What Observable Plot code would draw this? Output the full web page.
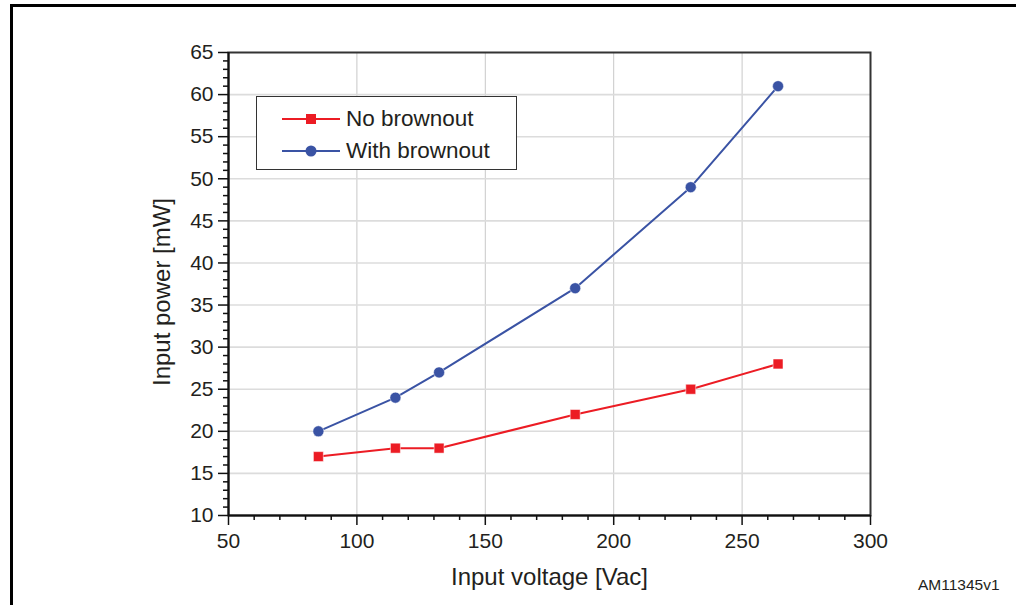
<!DOCTYPE html>
<html>
<head>
<meta charset="utf-8">
<script src="https://cdn.jsdelivr.net/npm/d3@7"></script>
<script src="https://cdn.jsdelivr.net/npm/@observablehq/plot@0.6"></script>
<style>
  html, body { margin: 0; padding: 0; background: #fff; }
  body { width: 1016px; height: 605px; overflow: hidden; position: relative; font-family: "Liberation Sans", Arial, sans-serif; }
  #frame { position: absolute; left: 10px; top: 4px; width: 1100px; height: 700px; border-left: 3px solid #000; border-top: 3px solid #000; box-sizing: border-box; }
  #chart { position: absolute; left: 0; top: 0; }
  #legend { position: absolute; left: 256px; top: 96px; width: 261px; height: 74px; border: 1.5px solid #333; background: #fff; box-sizing: border-box; }
  .row { position: absolute; left: 25px; height: 26px; display: flex; align-items: center; font-size: 22.5px; color: #231f20; }
  .row svg { margin-right: 6px; }
  #code { position: absolute; left: 918px; top: 576px; font-size: 15.5px; color: #231f20; }
</style>
</head>
<body>
<div id="frame"></div>
<div id="chart"></div>
<div id="legend"></div>
<div id="code">AM11345v1</div>
<script>
const voltage = [85, 115, 132, 185, 230, 264];
const noBrownout = [17, 18, 18, 22, 25, 28];
const withBrownout = [20, 24, 27, 37, 49, 61];
const seriesNames = ["No brownout", "With brownout"];
const seriesColors = ["#ec1c24", "#3a53a4"];
const xTicks = [50, 100, 150, 200, 250, 300];
const xMinor = [60, 70, 80, 90, 110, 120, 130, 140, 160, 170, 180, 190, 210, 220, 230, 240, 260, 270, 280, 290];
const yTicks = [10, 15, 20, 25, 30, 35, 40, 45, 50, 55, 60, 65];
const yMinor = d3.range(10, 66).filter(v => v % 5 !== 0);
const xLabel = "Input voltage [Vac]";
const yLabel = "Input power [mW]";

const red = voltage.map((v, i) => ({x: v, y: noBrownout[i]}));
const blue = voltage.map((v, i) => ({x: v, y: withBrownout[i]}));

const font = "Liberation Sans, Arial, sans-serif";
const chart = Plot.plot({
  width: 1016,
  height: 605,
  marginLeft: 228,
  marginRight: 146,
  marginTop: 52,
  marginBottom: 90,
  style: {fontFamily: font, color: "#231f20", background: "transparent"},
  x: {domain: [50, 300]},
  y: {domain: [10, 65]},
  marks: [
    Plot.ruleX(xTicks.slice(1, -1), {stroke: "#c8c8c8", strokeWidth: 1}),
    Plot.ruleY(yTicks.slice(1, -1), {stroke: "#dcdcdc", strokeWidth: 1.6}),
    Plot.frame({stroke: "#333", strokeWidth: 2}),
    Plot.ruleX([50], {stroke: "#111", strokeWidth: 2}),
    Plot.ruleY([10], {stroke: "#111", strokeWidth: 2}),
    Plot.axisY({ticks: yMinor, tickSize: 5, tickFormat: () => "", label: null, stroke: "#111", strokeWidth: 1.5}),
    Plot.axisX({ticks: xMinor, tickSize: 5, tickFormat: () => "", label: null, stroke: "#111", strokeWidth: 1.5}),
    Plot.axisY({ticks: yTicks, tickSize: 10, tickPadding: 5, fontSize: 21, label: null, stroke: "#111", strokeWidth: 1.5}),
    Plot.axisX({ticks: xTicks, tickSize: 10, tickPadding: 8, fontSize: 21, label: null, stroke: "#111", strokeWidth: 1.5}),
    Plot.line(red, {x: "x", y: "y", stroke: seriesColors[0], strokeWidth: 2}),
    Plot.dot(red, {x: "x", y: "y", symbol: "square", r: 5.6, fill: seriesColors[0], stroke: "#fff", strokeWidth: 0.5}),
    Plot.line(blue, {x: "x", y: "y", stroke: seriesColors[1], strokeWidth: 2}),
    Plot.dot(blue, {x: "x", y: "y", symbol: "circle", r: 5.5, fill: seriesColors[1], stroke: "#fff", strokeWidth: 0.5}),
    Plot.text([xLabel], {frameAnchor: "bottom", dy: 69, fontSize: 24, fill: "#231f20"}),
    Plot.text([yLabel], {frameAnchor: "left", textAnchor: "middle", dx: -66, dy: 8, rotate: -90, fontSize: 24, fill: "#231f20"})
  ]
});
document.getElementById("chart").appendChild(chart);

const legend = document.getElementById("legend");
seriesNames.forEach((name, i) => {
  const row = document.createElement("div");
  row.className = "row";
  row.style.top = (i === 0 ? 9 : 41) + "px";
  const sym = i === 0
    ? `<rect x="24" y="8" width="10" height="10" fill="${seriesColors[i]}"/>`
    : `<circle cx="29" cy="13" r="5.5" fill="${seriesColors[i]}"/>`;
  row.innerHTML = `<svg width="58" height="26"><line x1="0" x2="58" y1="13" y2="13" stroke="${seriesColors[i]}" stroke-width="2"/>${sym}</svg><span>${name}</span>`;
  legend.appendChild(row);
});
</script>
</body>
</html>
